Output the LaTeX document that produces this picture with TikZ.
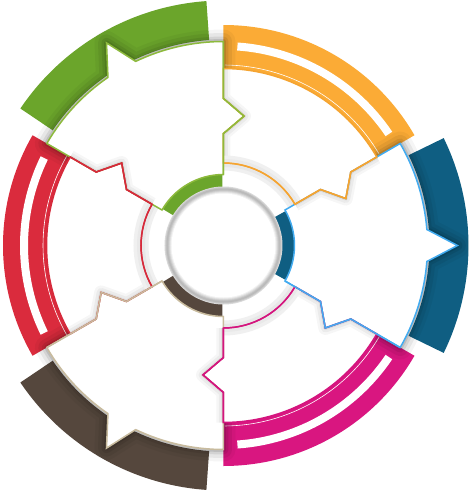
\documentclass[tikz,border=0pt]{standalone}
\definecolor{cgreen}{HTML}{6BA52B}
\definecolor{cgreenL}{HTML}{8DBA3C}
\definecolor{corange}{HTML}{FBAB36}
\definecolor{corangeL}{HTML}{F5A431}
\definecolor{cblue}{HTML}{0F5E82}
\definecolor{cblueL}{HTML}{42ABF0}
\definecolor{cmag}{HTML}{D91680}
\definecolor{cmagL}{HTML}{D4157E}
\definecolor{cbrown}{HTML}{55473D}
\definecolor{cbrownL}{HTML}{C8BB9E}
\definecolor{cred}{HTML}{DA2B3D}
\definecolor{credL}{HTML}{D62A3B}
% piece paths
\newcommand\PDouble[1]{({#1-30}:82.5) -- ({#1-30}:112) -- ({#1-39}:131) -- ({#1-30}:147) -- ({#1-30}:177) arc[start angle={#1-30}, end angle={#1+30}, radius=177] -- ({#1+30}:147) -- ({#1+21}:131) -- ({#1+30}:112) -- ({#1+30}:82.5) arc[start angle={#1+30}, end angle={#1-30}, radius=82.5] -- cycle}
\newcommand\PSolid[1]{({#1-30}:71) -- ({#1-30}:112) -- ({#1-39}:131) -- ({#1-30}:147) -- ({#1-30}:204) arc[start angle={#1-30}, end angle={#1-4.5}, radius=204] -- (#1:234) -- ({#1+4.5}:204) arc[start angle={#1+4.5}, end angle={#1+30}, radius=204] -- ({#1+30}:147) -- ({#1+21}:131) -- ({#1+30}:112) -- ({#1+30}:71) arc[start angle={#1+30}, end angle={#1-30}, radius=71] -- cycle}
\newcommand\EdgeD[1]{({#1-30}:82.5) -- ({#1-30}:112) -- ({#1-39}:131) -- ({#1-30}:147) -- ({#1-30}:177)}
\newcommand\EdgeS[1]{({#1-30}:71) -- ({#1-30}:112) -- ({#1-39}:131) -- ({#1-30}:147) -- ({#1-30}:204)}
% bands
\newcommand\BandS[2]{\fill[#2] ({#1-26}:206) arc[start angle={#1-26}, end angle={#1+26}, radius=206] -- ({#1+26}:245) arc[start angle={#1+26}, end angle={#1-26}, radius=245] -- cycle;}
\newcommand\BandD[2]{\fill[#2] ({#1-30}:177) arc[start angle={#1-30}, end angle={#1+30}, radius=177] -- ({#1+30}:220.5) arc[start angle={#1+30}, end angle={#1-30}, radius=220.5] -- cycle;
\fill[white] ({#1-26}:195.5) arc[start angle={#1-26}, end angle={#1+26}, radius=195.5] -- ({#1+26}:203.5) arc[start angle={#1+26}, end angle={#1-26}, radius=203.5] -- cycle;
\draw[white, line width=0.6pt] ({#1-29.6}:180.5) arc[start angle={#1-29.6}, end angle={#1+29.6}, radius=180.5];}
\newcommand\HaloS[1]{\foreach \w/\o in {24/0.04, 17/0.06, 10/0.08, 5/0.1} {\draw[line width=\w pt, black, opacity=\o, line join=round] \PSolid{#1};}}
\newcommand\TabShadow[3]{% #1 owner edge macro, #2 angle, #3 neighbour path
\begin{scope}\clip #3;
\foreach \w/\o in {14/0.035, 9/0.045, 4/0.06} {\draw[line width=\w pt, black, opacity=\o, line join=round] #1{#2};}
\end{scope}}
\newcommand\GreyRing[1]{\fill[gray!12] ({#1-30}:75) arc[start angle={#1-30}, end angle={#1+30}, radius=75] -- ({#1+30}:90) arc[start angle={#1+30}, end angle={#1-30}, radius=90] -- cycle;
\draw[gray!19, line width=4pt] ({#1-30}:80.5) arc[start angle={#1-30}, end angle={#1+30}, radius=80.5];
\draw[gray!17, line width=3pt] ({#1-30}:85) arc[start angle={#1-30}, end angle={#1+30}, radius=85];}
\newcommand\ArcS[2]{\fill[#2] ({#1-29}:58) arc[start angle={#1-29}, end angle={#1+29}, radius=58] -- ({#1+29}:71) arc[start angle={#1+29}, end angle={#1-29}, radius=71] -- cycle;}
\newcommand\ArcD[2]{\draw[#2, line width=1.4pt] ({#1-30}:82.5) arc[start angle={#1-30}, end angle={#1+30}, radius=82.5];}
\tikzset{outl/.style={line width=1.5pt, line join=miter}}
\begin{document}
\begin{tikzpicture}[x=1pt,y=1pt]
\useasboundingbox (-223.5,-245.5) rectangle (245.5,245.5);
\fill[white] (-223.5,-245.5) rectangle (245.5,245.5);
% outer bands
\BandS{120}{cgreen}
\BandS{0}{cblue}
\BandS{-120}{cbrown}
\BandD{60}{corange}
\BandD{-60}{cmag}
\BandD{180}{cred}
% shadows of solid pieces on their bands
\HaloS{120}
\HaloS{0}
\HaloS{-120}
\fill[white] (0,0) circle (83);
% white pieces
\fill[white] \PSolid{120};
\fill[white] \PSolid{0};
\fill[white] \PSolid{-120};
\fill[white] \PDouble{60};
\fill[white] \PDouble{-60};
\fill[white] \PDouble{180};
% tab shadows onto clockwise neighbours
\TabShadow{\EdgeS}{120}{\PDouble{60}}
\TabShadow{\EdgeD}{60}{\PSolid{0}}
\TabShadow{\EdgeS}{0}{\PDouble{-60}}
\TabShadow{\EdgeD}{-60}{\PSolid{-120}}
\TabShadow{\EdgeS}{-120}{\PDouble{180}}
\TabShadow{\EdgeD}{180}{\PSolid{120}}
% grey rings of double segments
\GreyRing{60}
\GreyRing{-60}
\GreyRing{180}
% inner arcs
\ArcS{120}{cgreen}
\ArcS{0}{cblue}
\ArcS{-120}{cbrown}
\ArcD{60}{corangeL}
\ArcD{-60}{cmagL}
\ArcD{180}{credL}
% outlines
\draw[outl, cgreenL] \PSolid{120};
\draw[outl, cblueL] \PSolid{0};
\draw[outl, cbrownL] \PSolid{-120};
\draw[outl, corangeL] \PDouble{60};
\draw[outl, cmagL] \PDouble{-60};
\draw[outl, credL] \PDouble{180};
\draw[outl, cgreenL] \EdgeS{120};
\draw[outl, cblueL] \EdgeS{0};
\draw[outl, cbrownL] \EdgeS{-120};
\draw[outl, corangeL] \EdgeD{60};
\draw[outl, cmagL] \EdgeD{-60};
\draw[outl, credL] \EdgeD{180};
% centre circle
\foreach \r/\c in {59/30, 58/45, 57/55, 56/50, 55/38, 54/24, 53/11} {\fill[gray!\c] (0,0) circle (\r);}
\fill[white] (0,0) circle (52);
\end{tikzpicture}
\end{document}
